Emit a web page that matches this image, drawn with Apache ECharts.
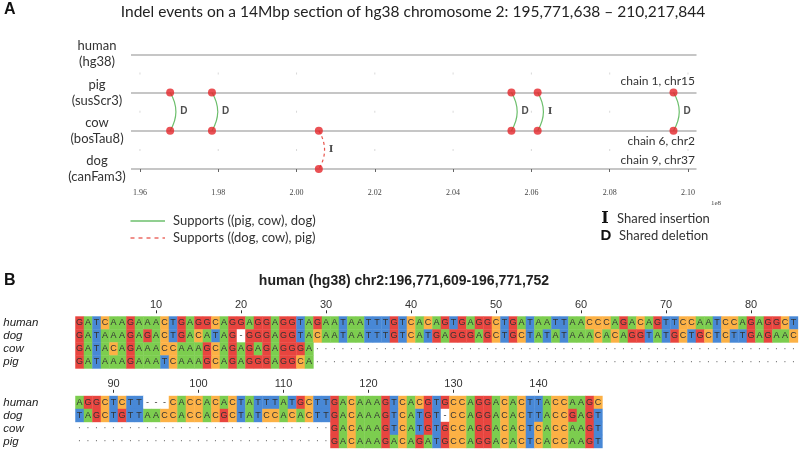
<!DOCTYPE html>
<html>
<head>
<meta charset="utf-8">
<script src="https://cdn.jsdelivr.net/npm/echarts@6/dist/echarts.min.js"></script>
<style>
  html, body { margin: 0; background: #fff; }
  #main { width: 800px; height: 449px; }
</style>
</head>
<body>
<div id="main"></div>
<script>
// ---- panel A : indel events ----
const rowNames = ['dog\n(canFam3)', 'cow\n(bosTau8)', 'pig\n(susScr3)', 'human\n(hg38)'];
const regionStart = 195771638;
const regionEnd = 210217844;
const axisTicks = [196e6, 198e6, 200e6, 202e6, 204e6, 206e6, 208e6, 210e6];
const eventPos = [196771680, 197840000, 200570000, 205490000, 206160000, 209630000];
const eventKind = ['D', 'D', 'I', 'D', 'I', 'D'];
// rows joined by each event (row index into rowNames)
const eventRows = [[2, 1], [2, 1], [1, 0], [2, 1], [2, 1], [2, 1]];
// which topology the event supports
const eventTree = ['pc', 'pc', 'dc', 'pc', 'pc', 'pc'];

// ---- panel B : alignment ----
const seqNames = ['human', 'dog', 'cow', 'pig'];
const seqs = [
  'GATCAAGAAACTGAGGCAGGAGGAGGTAGAATAATTTGTCACAGTGAGGCTGATAATTAACCCAGACAGTTCCAATCCAGAGGCT' +
  'AGGCTCTT---CACCACACTATTTATGCTTGACAAAGTCACGTGCCAGGACACTTACCAAGC',
  'GATAAAGAGACTGACATAG-GGGAGGTACAATAATTTGTCATGAGGGAGCTGCTATATAAACACAGGTATGCTGCTCTTGAGAAC' +
  'TAGCTGTTAACCACCACGCTATCCACACTTGACAAAGTCATGT-CCAGGACACTTACCGAGT',
  'GATACAGAAACCAAAGCAGAGAGAGGGA' + '.'.repeat(87) + 'GACAAAGTCATGTGCCAGGACACTCACCAAGT',
  'GATAAAGAAATCAAAGCAGAGGGAGGCA' + '.'.repeat(87) + 'GACAAAGACAGATGCCAGGACACTCACCAAGT'
];
const blockBreak = 85;
const block1Ticks = [10, 20, 30, 40, 50, 60, 70, 80];
const block2Ticks = [90, 100, 110, 120, 130, 140];

const baseColors = { A: '#7ccd4f', C: '#fcb145', G: '#e8453f', T: '#4888d6' };

function blockCells(from, to) {
  const out = [];
  seqs.forEach((s, r) => {
    for (let col = from; col <= to; col++) out.push([col, r, s[col - 1]]);
  });
  return out;
}
const cells1 = blockCells(1, blockBreak);
const cells2 = blockCells(blockBreak + 1, seqs[0].length);

function cellRenderer(cells) {
  return function (params, api) {
    const c = cells[params.dataIndex];
    const pt = api.coord([c[0], c[1]]);
    const sz = api.size([1, 1]);
    const ch = c[2];
    const kids = [];
    if (baseColors[ch] || ch === '-') {
      kids.push({
        type: 'rect',
        shape: { x: pt[0] - sz[0] / 2, y: pt[1] - sz[1] / 2, width: sz[0] + 0.4, height: sz[1] + 0.4 },
        style: { fill: baseColors[ch] || '#fff' }
      });
    }
    kids.push({
      type: 'text', x: pt[0], y: pt[1],
      style: {
        text: ch === '.' ? '·' : ch, align: 'center', verticalAlign: 'middle',
        font: ch === '.' ? '10px Arial' : '9px Arial', fill: ch === '.' ? '#777' : '#333'
      }
    });
    return { type: 'group', children: kids };
  };
}

const greenArc = '#6cbf6c';
const redArc = '#e8554d';
const pointColor = '#e5262b';

const pcIdx = eventTree.map((t, i) => i).filter(i => eventTree[i] === 'pc');
const dcIdx = eventTree.map((t, i) => i).filter(i => eventTree[i] === 'dc');

const pointData = [];
eventPos.forEach((p, i) => { pointData.push([p, eventRows[i][0]], [p, eventRows[i][1]]); });

const midMarks = [];
axisTicks.forEach(t => { [0.5, 1.5, 2.5].forEach(y => midMarks.push([t, y])); });

const seqAxisLabel = { interval: 0, align: 'left', margin: 72, fontSize: 11.5, fontStyle: 'italic', color: '#222', fontFamily: 'Arial' };

const myChart = echarts.init(document.getElementById('main'));
const option = {
  animation: false,
  grid: [
    { left: 131, right: 103.5, top: 54.3, bottom: 280 },
    { left: 75.25, width: 85 * 8.5, top: 316.3, height: 52 },
    { left: 75.25, width: 62 * 8.5, top: 395.8, height: 52 }
  ],
  xAxis: [
    {
      gridIndex: 0, type: 'value', min: regionStart, max: regionEnd, offset: 17,
      axisLine: { show: false },
      axisTick: { show: true, length: 3, customValues: axisTicks, lineStyle: { color: '#666' } },
      axisLabel: {
        customValues: axisTicks, margin: 3, fontSize: 8, color: '#444',
        fontFamily: 'Liberation Serif', formatter: v => (v / 1e8).toFixed(2)
      },
      splitLine: { show: false }
    },
    {
      gridIndex: 1, type: 'value', min: 0.5, max: blockBreak + 0.5, position: 'top', offset: 3,
      axisLine: { show: false },
      axisTick: { show: true, length: 3, customValues: block1Ticks, lineStyle: { color: '#333' } },
      axisLabel: { customValues: block1Ticks, margin: 3, fontSize: 11, color: '#333', fontFamily: 'Arial' },
      splitLine: { show: false }
    },
    {
      gridIndex: 2, type: 'value', min: blockBreak + 0.5, max: seqs[0].length + 0.5, position: 'top', offset: 3,
      axisLine: { show: false },
      axisTick: { show: true, length: 3, customValues: block2Ticks, lineStyle: { color: '#333' } },
      axisLabel: { customValues: block2Ticks, margin: 3, fontSize: 11, color: '#333', fontFamily: 'Arial' },
      splitLine: { show: false }
    }
  ],
  yAxis: [
    {
      gridIndex: 0, type: 'value', min: 0, max: 3, interval: 1,
      axisLine: { show: false }, axisTick: { show: false },
      axisLabel: {
        formatter: v => rowNames[v], align: 'center', margin: 34,
        fontSize: 13, lineHeight: 16, color: '#333', fontFamily: 'Lato'
      },
      splitLine: { lineStyle: { color: '#b3b3b3', width: 1.5 } }
    },
    {
      gridIndex: 1, type: 'category', data: seqNames, inverse: true,
      axisLine: { show: false }, axisTick: { show: false }, axisLabel: seqAxisLabel
    },
    {
      gridIndex: 2, type: 'category', data: seqNames, inverse: true,
      axisLine: { show: false }, axisTick: { show: false }, axisLabel: seqAxisLabel
    }
  ],
  series: [
    {
      type: 'scatter', xAxisIndex: 0, yAxisIndex: 0, data: midMarks,
      symbol: 'rect', symbolSize: [1, 2], itemStyle: { color: '#cfcfcf' }, silent: true
    },
    {
      type: 'lines', coordinateSystem: 'cartesian2d', xAxisIndex: 0, yAxisIndex: 0,
      data: pcIdx.map(i => ({ coords: [[eventPos[i], eventRows[i][0]], [eventPos[i], eventRows[i][1]]] })),
      lineStyle: { color: greenArc, width: 1.2, curveness: 0.3, opacity: 1 }
    },
    {
      type: 'lines', coordinateSystem: 'cartesian2d', xAxisIndex: 0, yAxisIndex: 0,
      data: dcIdx.map(i => ({ coords: [[eventPos[i], eventRows[i][0]], [eventPos[i], eventRows[i][1]]] })),
      lineStyle: { color: redArc, width: 1.2, curveness: 0.3, type: [3, 3], opacity: 1 }
    },
    {
      type: 'scatter', xAxisIndex: 0, yAxisIndex: 0, data: pointData, z: 5,
      symbolSize: 8, itemStyle: { color: pointColor }
    },
    {
      type: 'scatter', xAxisIndex: 0, yAxisIndex: 0, symbolSize: 0,
      data: eventPos.map((p, i) => [p, (eventRows[i][0] + eventRows[i][1]) / 2, eventKind[i]]),
      label: {
        show: true, position: 'right', distance: 10,
        formatter: p => p.value[2] === 'I' ? '{i|I}' : '{d|D}',
        rich: {
          i: { fontFamily: 'DejaVu Serif', fontWeight: 'bold', fontSize: 10, color: '#222' },
          d: { fontFamily: 'Arial', fontWeight: 'bold', fontSize: 10, color: '#222' }
        }
      }
    },
    {
      type: 'custom', xAxisIndex: 1, yAxisIndex: 1,
      data: cells1.map(c => [c[0], c[1]]), encode: { x: 0, y: 1 },
      renderItem: cellRenderer(cells1)
    },
    {
      type: 'custom', xAxisIndex: 2, yAxisIndex: 2,
      data: cells2.map(c => [c[0], c[1]]), encode: { x: 0, y: 1 },
      renderItem: cellRenderer(cells2)
    }
  ],
  graphic: [
    { type: 'text', x: 4, y: 2, style: { text: 'A', font: 'bold 16px Arial', fill: '#111' } },
    { type: 'text', x: 413, y: 12, style: { text: 'Indel events on a 14Mbp section of hg38 chromosome 2: 195,771,638 \u2013 210,217,844', font: '15.5px Lato', fill: '#222', align: 'center', verticalAlign: 'middle' } },
    { type: 'text', x: 695, y: 81, style: { text: 'chain 1, chr15', font: '12px Lato', fill: '#333', align: 'right', verticalAlign: 'middle' } },
    { type: 'text', x: 695, y: 141, style: { text: 'chain 6, chr2', font: '12px Lato', fill: '#333', align: 'right', verticalAlign: 'middle' } },
    { type: 'text', x: 695, y: 160, style: { text: 'chain 9, chr37', font: '12px Lato', fill: '#333', align: 'right', verticalAlign: 'middle' } },
    { type: 'text', x: 716, y: 203, style: { text: '1e8', font: '7px Liberation Serif', fill: '#444', align: 'center', verticalAlign: 'middle' } },
    { type: 'line', shape: { x1: 130.5, y1: 221, x2: 165, y2: 221 }, style: { stroke: greenArc, lineWidth: 1.3 } },
    { type: 'text', x: 173, y: 221, style: { text: 'Supports ((pig, cow), dog)', font: '13px Lato', fill: '#333', verticalAlign: 'middle' } },
    { type: 'line', shape: { x1: 130.5, y1: 238, x2: 165, y2: 238 }, style: { stroke: redArc, lineWidth: 1.3, lineDash: [4, 4] } },
    { type: 'text', x: 173, y: 238, style: { text: 'Supports ((dog, cow), pig)', font: '13px Lato', fill: '#333', verticalAlign: 'middle' } },
    { type: 'text', x: 605, y: 219, style: { text: 'I', font: 'bold 16px DejaVu Serif', fill: '#111', align: 'center', verticalAlign: 'middle' } },
    { type: 'text', x: 617, y: 219, style: { text: 'Shared insertion', font: '13px Lato', fill: '#333', verticalAlign: 'middle' } },
    { type: 'text', x: 606, y: 236, style: { text: 'D', font: 'bold 15px Arial', fill: '#111', align: 'center', verticalAlign: 'middle' } },
    { type: 'text', x: 619, y: 236, style: { text: 'Shared deletion', font: '13px Lato', fill: '#333', verticalAlign: 'middle' } },
    { type: 'text', x: 4, y: 273, style: { text: 'B', font: 'bold 16px Arial', fill: '#111' } },
    { type: 'text', x: 404, y: 281, style: { text: 'human (hg38) chr2:196,771,609-196,771,752', font: 'bold 14px Arial', fill: '#222', align: 'center', verticalAlign: 'middle' } }
  ]
};
myChart.setOption(option);
window.addEventListener('resize', () => myChart.resize());
</script>
</body>
</html>
